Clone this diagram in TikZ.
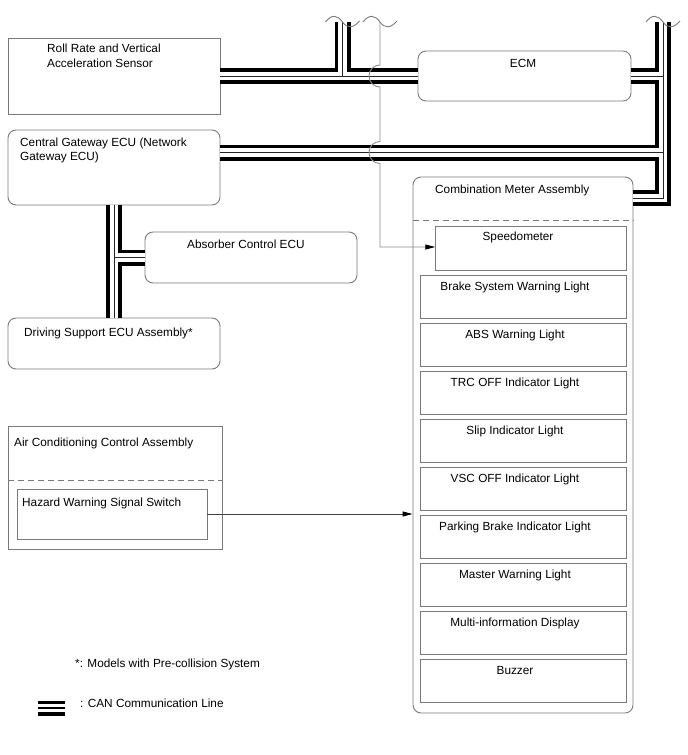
\documentclass[tikz,border=0pt]{standalone}
\usepackage{fontspec}
\setmainfont{Liberation Sans}
\usetikzlibrary{arrows.meta,calc}
\definecolor{boxgray}{gray}{0.48}
\definecolor{siggray}{gray}{0.55}
\begin{document}
\begin{tikzpicture}[x=1pt,y=-1pt,
  box/.style={draw=boxgray, line width=0.9pt, inner sep=0pt},
  rbox/.style={box, rounded corners=8pt},
  txt/.style={font=\fontsize{11.8}{14}\selectfont, inner sep=0pt, anchor=base west},
  ctxt/.style={txt, anchor=base},
  busA/.style={line width=16pt, black, line join=miter},
  busB/.style={line width=8.5pt, white, line join=miter},
  busC/.style={line width=0.9pt, black!85, line join=miter},
  sig/.style={draw=siggray, line width=0.9pt},
  sigdark/.style={draw=black!75, line width=0.9pt},
  dashsep/.style={draw=boxgray, line width=0.9pt, dash pattern=on 6pt off 4pt},
  brk/.style={draw=boxgray, line width=0.9pt},
  tip/.style={-{Triangle[length=10pt,width=5pt,color=black]}}
]
\useasboundingbox (0,0) rectangle (688,755);

% ---------- boxes ----------
\node[box,  minimum width=212pt, minimum height=76pt] (roll) at (114,76) {};
\node[rbox, minimum width=212pt, minimum height=75pt] (gw)   at (114,167.5) {};
\node[rbox, minimum width=212pt, minimum height=51pt] (abs)  at (251,257.5) {};
\node[rbox, minimum width=212pt, minimum height=51pt] (drv)  at (114,343.5) {};
\node[rbox, minimum width=213pt, minimum height=50pt] (ecm)  at (524.5,76) {};
\node[rbox, minimum width=220pt, minimum height=536pt] (comb) at (523,445) {};
\node[box,  minimum width=191pt, minimum height=43.3pt] (spd) at (531.2,248.4) {};
\foreach \i/\nm in {0/bsw,1/absw,2/trc,3/slip,4/vsc,5/pkb,6/mst,7/mid,8/buz}{
  \node[box, minimum width=206.7pt, minimum height=42.7pt] (\nm) at (523.35,297+48*\i) {};
}
\node[box, minimum width=214pt, minimum height=123pt] (ac)  at (115,487.5) {};
\node[box, minimum width=190pt, minimum height=50pt]  (haz) at (112,514) {};

% dashed separators
\draw[dashsep] (comb.west |- 0,220.7) -- (comb.east |- 0,220.7);
\draw[dashsep] (ac.west |- 0,480) -- (ac.east |- 0,480);

% ---------- CAN bus ----------
\coordinate (brkA) at (342.5,22);
\coordinate (brkB) at (380,22);
\coordinate (brkC) at (663,22);
\coordinate (jR1) at (663,76);
\coordinate (jR2) at (663,152.5);
\coordinate (jR3) at (663,198);
\coordinate (jL)  at (114,257.5);
\newcommand\busroutes[1]{%
  \draw[#1] (roll.east) -- (ecm.west);
  \draw[#1] (342.5,76) -- (brkA);
  \draw[#1] (gw.east |- 0,152.5) -- (jR2);
  \draw[#1] (brkC) -- (jR3) -- (comb.east |- jR3);
  \draw[#1] (ecm.east) -- (jR1);
  \draw[#1] (gw.south) -- (drv.north);
  \draw[#1] (jL) -- (abs.west);
}
\busroutes{busA}
\busroutes{busB}
\busroutes{busC}

% break marks
\newcommand\breakmark[1]{%
  \draw[brk] ($(#1)+(-17,0)$) .. controls ($(#1)+(-11,-8)$) and ($(#1)+(-5,-7)$) .. ($(#1)+(0,0)$)
     .. controls ($(#1)+(5,7)$) and ($(#1)+(11,6)$) .. ($(#1)+(17,-1)$);}
\breakmark{brkA}
\breakmark{brkB}
\breakmark{brkC}

% ---------- signal lines ----------
\draw[sig, tip] (brkB) -- (380,65)
   .. controls (373.9,65) and (369,69.9) .. (369,76)
   .. controls (369,82.1) and (373.9,87) .. (380,87)
   -- (380,141.5)
   .. controls (373.9,141.5) and (369,146.4) .. (369,152.5)
   .. controls (369,158.6) and (373.9,163.5) .. (380,163.5)
   -- (380,247) -- (spd.west |- 0,247);
\draw[sigdark, tip] (haz.east) -- (comb.west |- haz.east);

% ---------- texts ----------
\node[txt] (t1) at (47,52.5) {Roll Rate and Vertical};
\node[txt] (t2) at (47,67.5) {Acceleration Sensor};
\node[ctxt] (t3) at (523,67.5) {ECM};
\node[txt] (t4) at (20,146) {Central Gateway ECU (Network};
\node[txt] (t5) at (20,160.5) {Gateway ECU)};
\node[txt] (t6) at (187,248.5) {Absorber Control ECU};
\node[txt] (t7) at (24,336) {Driving Support ECU Assembly*};
\node[txt] (t8) at (435,193) {Combination Meter Assembly};
\node[ctxt] (t9) at (518,240.8) {Speedometer};
\foreach \i/\s in {0/Brake System Warning Light,1/ABS Warning Light,2/TRC OFF Indicator Light,3/Slip Indicator Light,4/VSC OFF Indicator Light,5/Parking Brake Indicator Light,6/Master Warning Light,7/Multi-information Display,8/Buzzer}{
  \node[ctxt] (l\i) at (515,290.4+48*\i) {\s};
}
\node[txt] (t10) at (14,446) {Air Conditioning Control Assembly};
\node[txt] (t11) at (22,506) {Hazard Warning Signal Switch};
\node[txt] (t12) at (75,667) {*: Models with Pre-collision System};
\node[txt] (t13) at (80,707) {: CAN Communication Line};

% legend symbol
\fill (38,701) rectangle (65,704.3);
\fill (38,706.7) rectangle (65,709.3);
\fill (38,711.7) rectangle (65,716);
\end{tikzpicture}
\end{document}
